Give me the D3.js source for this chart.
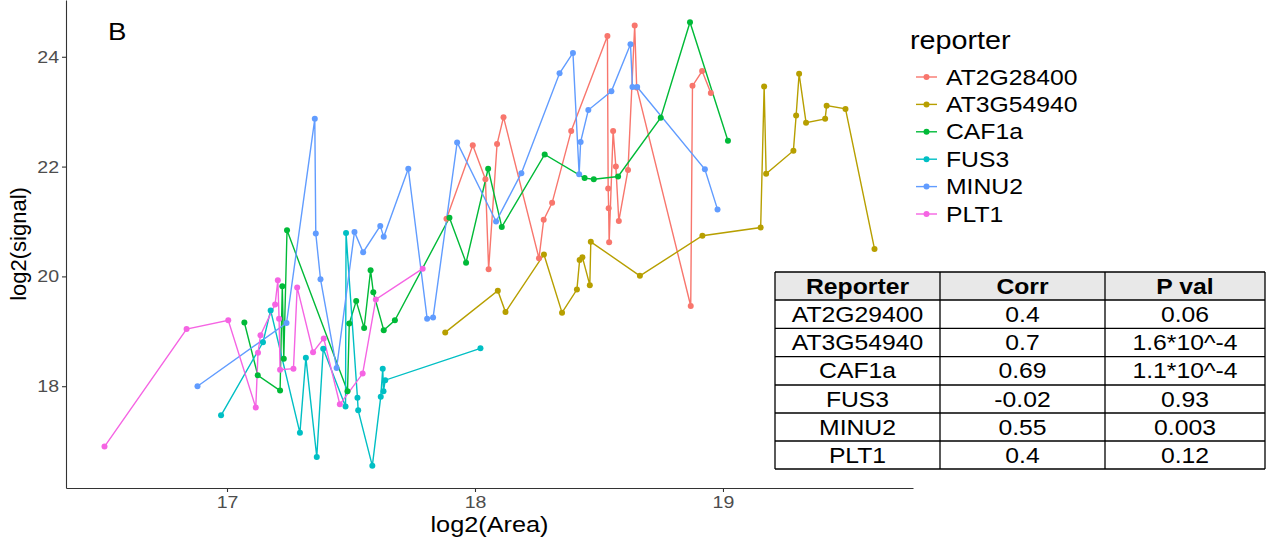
<!DOCTYPE html>
<html>
<head>
<meta charset="utf-8">
<script src="https://cdn.jsdelivr.net/npm/d3@7"></script>
<style>
  html, body { margin: 0; padding: 0; background: #fff; }
  svg { display: block; font-family: "Liberation Sans", Arial, sans-serif; }
</style>
</head>
<body>
<svg id="chart" width="1267" height="542"></svg>
<script>
// Reporter lines: [log2(Area), log2(signal)] per observation
const reporters = ["AT2G28400", "AT3G54940", "CAF1a", "FUS3", "MINU2", "PLT1"];
const reporterColors = ["#F8766D", "#B79F00", "#00BA38", "#00BFC4", "#619CFF", "#F564E3"];

const at2g28400 = [
  [17.885, 21.05], [17.991, 22.39], [18.042, 21.77], [18.055, 20.13], [18.089, 22.41],
  [18.115, 22.90], [18.258, 20.33], [18.277, 21.03], [18.311, 21.34], [18.388, 22.65],
  [18.534, 24.38], [18.537, 21.60], [18.539, 21.24], [18.541, 20.62], [18.557, 22.65],
  [18.568, 22.00], [18.580, 21.01], [18.617, 21.94], [18.644, 24.57], [18.652, 23.44],
  [18.870, 19.46], [18.877, 23.47], [18.916, 23.74], [18.951, 23.34]
];
const at3g54940 = [
  [17.880, 18.98], [18.092, 19.74], [18.123, 19.35], [18.278, 20.40], [18.351, 19.34],
  [18.411, 19.76], [18.422, 20.30], [18.433, 20.35], [18.463, 19.84], [18.467, 20.63],
  [18.665, 20.01], [18.917, 20.74], [19.152, 20.89], [19.166, 23.46], [19.174, 21.87],
  [19.284, 22.29], [19.295, 22.93], [19.307, 23.69], [19.335, 22.80], [19.412, 22.87],
  [19.418, 23.11], [19.494, 23.05], [19.611, 20.50]
];
const caf1a = [
  [17.070, 19.16], [17.124, 18.20], [17.214, 17.92], [17.223, 19.82], [17.229, 18.50],
  [17.242, 20.84], [17.486, 17.91], [17.493, 19.14], [17.521, 19.55], [17.553, 19.06],
  [17.579, 20.11], [17.590, 19.71], [17.632, 19.02], [17.677, 19.20], [17.897, 21.07],
  [17.964, 20.25], [18.053, 21.96], [18.108, 20.90], [18.281, 22.22], [18.442, 21.79],
  [18.479, 21.77], [18.577, 21.82], [18.749, 22.89], [18.867, 24.63], [19.020, 22.47]
];
const fus3 = [
  [16.976, 17.47], [17.145, 18.80], [17.176, 19.38], [17.294, 17.15], [17.318, 18.52],
  [17.362, 16.71], [17.388, 18.68], [17.478, 17.63], [17.480, 20.79], [17.526, 17.79],
  [17.529, 17.56], [17.586, 16.55], [17.620, 17.81], [17.628, 18.32], [17.631, 17.91],
  [17.638, 18.11], [18.022, 18.69]
];
const minu2 = [
  [16.881, 18.00], [17.240, 19.15], [17.354, 22.87], [17.358, 20.78], [17.377, 19.95],
  [17.442, 18.33], [17.514, 20.81], [17.549, 20.44], [17.618, 20.92], [17.632, 20.72],
  [17.731, 21.96], [17.807, 19.23], [17.831, 19.25], [17.928, 22.44], [18.085, 21.00],
  [18.187, 21.88], [18.341, 23.70], [18.395, 24.07], [18.420, 21.86], [18.426, 22.45],
  [18.457, 23.03], [18.550, 23.37], [18.627, 24.23], [18.635, 23.45], [18.654, 23.45],
  [18.927, 21.95], [18.978, 21.22]
];
const plt1 = [
  [16.506, 16.90], [16.837, 19.04], [17.005, 19.20], [17.116, 17.61], [17.125, 18.61],
  [17.135, 18.93], [17.194, 19.49], [17.205, 19.93], [17.210, 19.23], [17.214, 18.30],
  [17.268, 18.32], [17.283, 19.80], [17.347, 18.62], [17.390, 18.87], [17.455, 17.67],
  [17.547, 18.23], [17.600, 19.58], [17.789, 20.14]
];

const xTicks = [17, 18, 19];
const yTicks = [18, 20, 22, 24];

// Correlation summary table
const tableHeader = ["Reporter", "Corr", "P val"];
const tableReporter = ["AT2G29400", "AT3G54940", "CAF1a", "FUS3", "MINU2", "PLT1"];
const tableCorr = ["0.4", "0.7", "0.69", "-0.02", "0.55", "0.4"];
const tablePval = ["0.06", "1.6*10^-4", "1.1*10^-4", "0.93", "0.003", "0.12"];

const seriesValues = [at2g28400, at3g54940, caf1a, fus3, minu2, plt1];
const series = reporters.map((name, i) => ({
  name,
  color: reporterColors[i],
  values: seriesValues[i].map(([area, signal]) => ({ area, signal }))
    .sort((a, b) => a.area - b.area)
}));

// Text in this figure is set slightly wide
const WIDE = 1.15;

const svg = d3.select("#chart");
const panel = { left: 66, right: 913, top: 0, bottom: 488 };

function label(parent, x, y, str, opts = {}) {
  const g = parent.append("g").attr("transform", `translate(${x},${y}) scale(${WIDE},1)`);
  return g.append("text")
    .attr("text-anchor", opts.anchor || "start")
    .style("font-size", (opts.size || 20) + "px")
    .style("font-weight", opts.weight || "normal")
    .attr("fill", opts.fill || "#000")
    .text(str);
}

// ggplot-style 5% expansion of the data range
function expanded(ext) {
  const pad = (ext[1] - ext[0]) * 0.05;
  return [ext[0] - pad, ext[1] + pad];
}
const all = series.flatMap(s => s.values);
const x = d3.scaleLinear()
  .domain(expanded(d3.extent(all, d => d.area)))
  .range([panel.left, panel.right]);
const y = d3.scaleLinear()
  .domain(expanded(d3.extent(all, d => d.signal)))
  .range([panel.bottom, panel.top]);

// Axes (classic theme: plain axis lines, grey labels)
const xAxis = svg.append("g")
  .attr("transform", `translate(0,${panel.bottom})`)
  .call(d3.axisBottom(x).tickValues(xTicks).tickFormat(d3.format("d")).tickSize(4).tickSizeOuter(0).tickPadding(4));
const yAxis = svg.append("g")
  .attr("transform", `translate(${panel.left},0)`)
  .call(d3.axisLeft(y).tickValues(yTicks).tickFormat(d3.format("d")).tickSize(4).tickSizeOuter(0).tickPadding(3));
[xAxis, yAxis].forEach(g => {
  g.select(".domain").attr("stroke", "#333").attr("stroke-width", 1.1);
  g.selectAll(".tick line").attr("stroke", "#333").attr("stroke-width", 1.1);
  g.selectAll(".tick text").attr("fill", "#4D4D4D").style("font-size", "17px")
    .style("font-family", "Liberation Sans, Arial, sans-serif");
});
xAxis.selectAll(".tick text").attr("transform", `scale(${WIDE},1)`);
yAxis.selectAll(".tick text").each(function () {
  const t = d3.select(this);
  const tx = +t.attr("x");
  t.attr("x", tx / WIDE).attr("transform", `scale(${WIDE},1)`);
});

// Axis titles
label(svg, (panel.left + panel.right) / 2, 532, "log2(Area)", { anchor: "middle", size: 22 });
svg.append("text")
  .attr("transform", `translate(26,${(panel.top + panel.bottom) / 2}) rotate(-90)`)
  .attr("text-anchor", "middle").style("font-size", "22px")
  .text("log2(signal)");

// Panel tag
label(svg, 108, 40, "B", { size: 24 });

// Lines first, then points on top
const line = d3.line().x(d => x(d.area)).y(d => y(d.signal));
svg.append("g").selectAll("path").data(series).join("path")
  .attr("d", s => line(s.values))
  .attr("fill", "none").attr("stroke", s => s.color).attr("stroke-width", 1.4);
svg.append("g").selectAll("g").data(series).join("g")
  .attr("fill", s => s.color)
  .selectAll("circle").data(s => s.values).join("circle")
  .attr("cx", d => x(d.area)).attr("cy", d => y(d.signal)).attr("r", 3);

// Legend
const legend = svg.append("g").attr("transform", "translate(910,0)");
label(legend, 0, 49, "reporter", { size: 25 });
const item = legend.selectAll("g.item").data(series).join("g")
  .attr("class", "item")
  .attr("transform", (d, i) => `translate(0,${77 + i * 27.4})`);
item.append("line").attr("x1", 6).attr("x2", 27).attr("y1", 0).attr("y2", 0)
  .attr("stroke", d => d.color).attr("stroke-width", 1.4);
item.append("circle").attr("cx", 16.5).attr("cy", 0).attr("r", 3).attr("fill", d => d.color);
item.each(function (d) { label(d3.select(this), 36, 7.5, d.name, { size: 21.5 }); });

// Summary table
const colEdges = [775, 940, 1105, 1265];
const rowEdges = [272, 300, 328.3, 356.6, 385, 413, 441, 469];
const table = svg.append("g");
table.append("rect")
  .attr("x", colEdges[0]).attr("y", rowEdges[0])
  .attr("width", colEdges[3] - colEdges[0]).attr("height", rowEdges[1] - rowEdges[0])
  .attr("fill", "#E8E8E8");
rowEdges.forEach(ry => table.append("line")
  .attr("x1", colEdges[0]).attr("x2", colEdges[3]).attr("y1", ry).attr("y2", ry)
  .attr("stroke", "#000").attr("stroke-width", 1.3));
colEdges.forEach(cx => table.append("line")
  .attr("x1", cx).attr("x2", cx).attr("y1", rowEdges[0]).attr("y2", rowEdges[rowEdges.length - 1])
  .attr("stroke", "#000").attr("stroke-width", 1.3));
const rows = [tableHeader].concat(tableReporter.map((r, i) => [r, tableCorr[i], tablePval[i]]));
rows.forEach((row, ri) => {
  row.forEach((cell, ci) => {
    label(table,
      (colEdges[ci] + colEdges[ci + 1]) / 2,
      (rowEdges[ri] + rowEdges[ri + 1]) / 2 + 7.5,
      cell,
      { anchor: "middle", size: 21.5, weight: ri === 0 ? "bold" : "normal" });
  });
});
</script>
</body>
</html>
